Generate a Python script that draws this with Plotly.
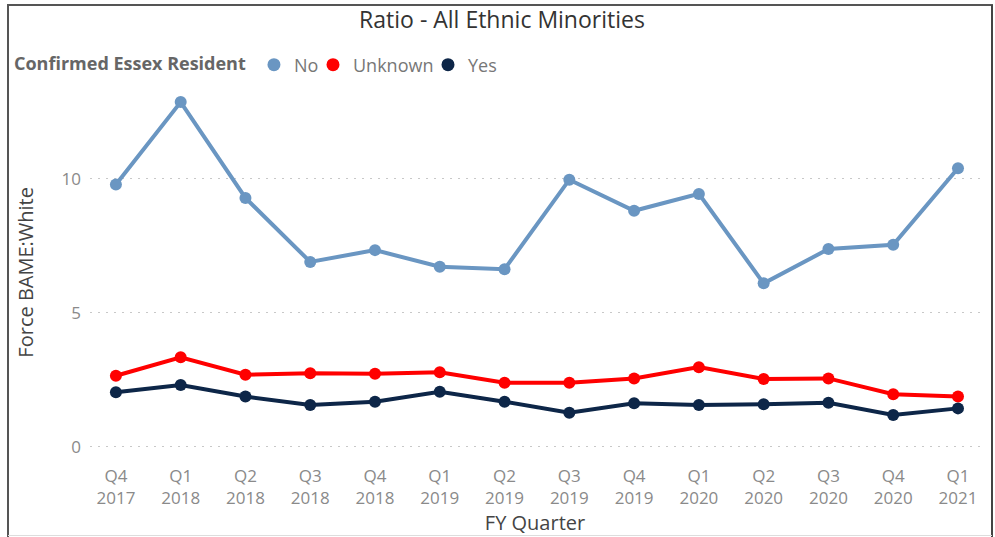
import plotly.graph_objects as go

# FY quarters on the category axis
quarters = ["Q4", "Q1", "Q2", "Q3", "Q4", "Q1", "Q2", "Q3", "Q4", "Q1", "Q2", "Q3", "Q4", "Q1"]
years = ["2017", "2018", "2018", "2018", "2018", "2019", "2019", "2019", "2019",
         "2020", "2020", "2020", "2020", "2021"]

# Force BAME:White ratio by confirmed Essex residency
ratio_no = [9.79, 12.87, 9.29, 6.90, 7.34, 6.72, 6.63, 9.97, 8.81, 9.44, 6.10, 7.38, 7.54, 10.40]
ratio_unknown = [2.65, 3.34, 2.69, 2.74, 2.72, 2.78, 2.39, 2.39, 2.55, 2.97, 2.53, 2.55, 1.96, 1.87]
ratio_yes = [2.03, 2.30, 1.87, 1.56, 1.68, 2.05, 1.68, 1.27, 1.62, 1.56, 1.58, 1.64, 1.18, 1.43]

series = [
    ("No", ratio_no, "#6A96C2"),
    ("Unknown", ratio_unknown, "#FF0000"),
    ("Yes", ratio_yes, "#0D2648"),
]

W, H = 995, 537
FONT = "Open Sans, Noto Sans, sans-serif"

x_idx = list(range(len(quarters)))
tick_text = [f"{q}<br>{y}" for q, y in zip(quarters, years)]

fig = go.Figure()
for name, vals, color in series:
    fig.add_trace(go.Scatter(
        x=x_idx, y=vals, mode="lines+markers", name=name,
        line=dict(color=color, width=4),
        marker=dict(color=color, size=12),
        showlegend=False,
    ))

# dot-only legend entries, each in its own legend box so they sit close together
legend_ids = ["legend", "legend2", "legend3"]
for (name, vals, color), lid in zip(series, legend_ids):
    fig.add_trace(go.Scatter(
        x=[None], y=[None], mode="markers", name=name, legend=lid,
        marker=dict(color=color, size=13),
    ))

# plot area in pixels
px_left, px_right = 90, 980
px_bottom, px_top = 454.7, 90

grid = dict(showgrid=True, gridcolor="#C8C8C8", gridwidth=1, griddash="1.5px,6.5px")

legend_common = dict(
    orientation="h", xanchor="left", y=1 - 65 / H, yanchor="middle",
    font=dict(size=18, color="#777777", family=FONT),
    itemwidth=30, tracegroupgap=0, bgcolor="rgba(0,0,0,0)",
)

fig.update_layout(
    width=W, height=H,
    margin=dict(l=0, r=0, t=0, b=0),
    paper_bgcolor="white", plot_bgcolor="white",
    font=dict(family=FONT, color="#777777"),
    title=dict(text="Ratio - All Ethnic Minorities", x=502 / W, xanchor="center",
               y=1 - 20 / H, yanchor="middle",
               font=dict(size=23, color="#333333", family=FONT)),
    legend=dict(
        x=12 / W,
        title=dict(text="<b>Confirmed Essex Resident</b>", side="left",
                   font=dict(size=18, color="#666666", family=FONT)),
        **legend_common,
    ),
    legend2=dict(x=313 / W, **legend_common),
    legend3=dict(x=428 / W, **legend_common),
    xaxis=dict(
        domain=[px_left / W, px_right / W],
        range=[-0.4, 13.34],
        tickmode="array", tickvals=x_idx, ticktext=tick_text,
        tickfont=dict(size=17, color="#8A8A8A"),
        ticklabelstandoff=9,
        showgrid=False, zeroline=False, showline=False, ticks="",
        automargin=False,
        title=dict(text="FY Quarter", font=dict(size=20, color="#444444"), standoff=6),
    ),
    yaxis=dict(
        domain=[1 - px_bottom / H, 1 - px_top / H],
        range=[-0.3, 13.32],
        tickmode="array", tickvals=[0, 5, 10],
        tickfont=dict(size=17, color="#8A8A8A"),
        zeroline=False, showline=False, ticks="",
        ticklabelstandoff=8,
        automargin=False,
        title=dict(text="Force BAME:White", font=dict(size=20, color="#444444"), standoff=22),
        **grid,
    ),
    shapes=[
        dict(type="line", xref="paper", yref="paper", x0=7 / W, x1=993 / W,
             y0=1 - 5 / H, y1=1 - 5 / H, line=dict(color="#555555", width=2)),
        dict(type="line", xref="paper", yref="paper", x0=8 / W, x1=8 / W,
             y0=1 - 5 / H, y1=0, line=dict(color="#555555", width=2)),
        dict(type="line", xref="paper", yref="paper", x0=992 / W, x1=992 / W,
             y0=1 - 5 / H, y1=0, line=dict(color="#444444", width=2)),
        dict(type="line", xref="paper", yref="paper", x0=8 / W, x1=992 / W,
             y0=1 - 535.5 / H, y1=1 - 535.5 / H, line=dict(color="#DDDDDD", width=1)),
    ],
)

fig.write_html("out.html")
